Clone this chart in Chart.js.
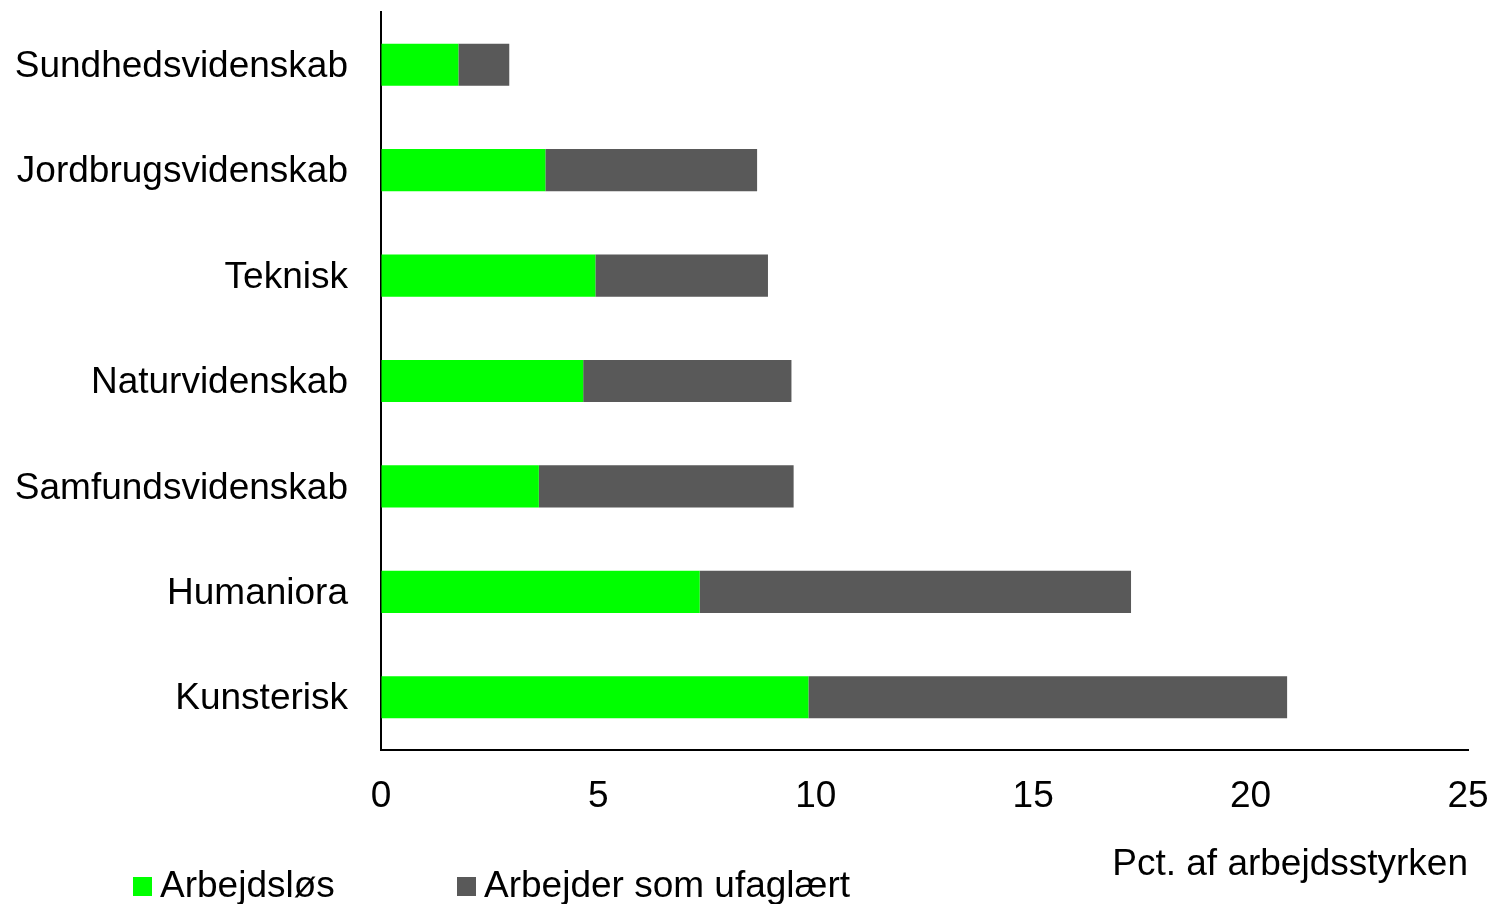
<!DOCTYPE html>
<html>
<head>
<meta charset="utf-8">
<script src="https://cdn.jsdelivr.net/npm/chart.js@4/dist/chart.umd.min.js"></script>
<style>
  html, body { margin: 0; padding: 0; background: #ffffff; }
  #wrap { width: 1495px; height: 904px; position: relative; }
</style>
</head>
<body>
<div id="wrap"><canvas id="c"></canvas></div>
<script>
const categories = ["Sundhedsvidenskab", "Jordbrugsvidenskab", "Teknisk", "Naturvidenskab", "Samfundsvidenskab", "Humaniora", "Kunsterisk"];
const arbejdslos = [1.78, 3.78, 4.93, 4.65, 3.63, 7.33, 9.83];
const ufaglaert = [1.17, 4.87, 3.97, 4.79, 5.86, 9.92, 11.01];
const seriesNames = ["Arbejdsløs", "Arbejder som ufaglært"];
const xTicks = [0, 5, 10, 15, 20, 25];
const axisTitle = "Pct. af arbejdsstyrken";

const FONT = "'Liberation Sans', Arial, Helvetica, sans-serif";
const FS = 37;

const legendPlugin = {
  id: 'customLegend',
  afterDraw(chart) {
    const ctx = chart.ctx;
    const starts = [133, 457];
    const boxSize = 19;
    const cy = 886;
    ctx.save();
    ctx.font = FS + "px " + FONT;
    ctx.textBaseline = 'middle';
    ctx.textAlign = 'left';
    chart.data.datasets.forEach((ds, i) => {
      const x = starts[i];
      ctx.fillStyle = ds.backgroundColor;
      ctx.fillRect(x, cy - 9, boxSize, boxSize);
      ctx.fillStyle = '#000000';
      ctx.fillText(ds.label, x + boxSize + 8, cy + 1);
    });
    ctx.restore();
  }
};

function zeroPad(scale) {
  scale.paddingTop = 0;
  scale.paddingBottom = 0;
  scale.paddingLeft = 0;
  scale.paddingRight = 0;
}

new Chart(document.getElementById('c'), {
  type: 'bar',
  data: {
    labels: categories,
    datasets: [
      { label: seriesNames[0], data: arbejdslos, backgroundColor: '#00FF00', borderWidth: 0, barPercentage: 0.4, categoryPercentage: 1.0 },
      { label: seriesNames[1], data: ufaglaert, backgroundColor: '#595959', borderWidth: 0, barPercentage: 0.4, categoryPercentage: 1.0 }
    ]
  },
  options: {
    indexAxis: 'y',
    responsive: true,
    maintainAspectRatio: false,
    devicePixelRatio: 1,
    animation: false,
    layout: { padding: { top: 12, right: 27, left: 0, bottom: 0 } },
    plugins: {
      legend: { display: false },
      tooltip: { enabled: false },
      title: { display: false }
    },
    scales: {
      x: {
        stacked: true,
        min: 0,
        max: 25,
        afterBuildTicks(scale) { scale.ticks = xTicks.map(v => ({ value: v })); },
        afterFit(scale) { scale.height = 154; zeroPad(scale); },
        grid: { display: true, color: 'rgba(0,0,0,0)', drawTicks: false },
        border: { display: true, color: '#000000', width: 2 },
        ticks: { color: '#000000', padding: 25, font: { family: FONT, size: FS } },
        title: { display: true, text: axisTitle, align: 'end', color: '#000000', font: { family: FONT, size: FS }, padding: { top: 0, bottom: 17 } }
      },
      y: {
        stacked: true,
        afterFit(scale) { scale.width = 381; zeroPad(scale); },
        grid: { display: true, color: 'rgba(0,0,0,0)', drawTicks: false },
        border: { display: true, color: '#000000', width: 2 },
        ticks: { color: '#000000', padding: 33, labelOffset: 2, font: { family: FONT, size: FS } }
      }
    }
  },
  plugins: [legendPlugin]
});
</script>
</body>
</html>
